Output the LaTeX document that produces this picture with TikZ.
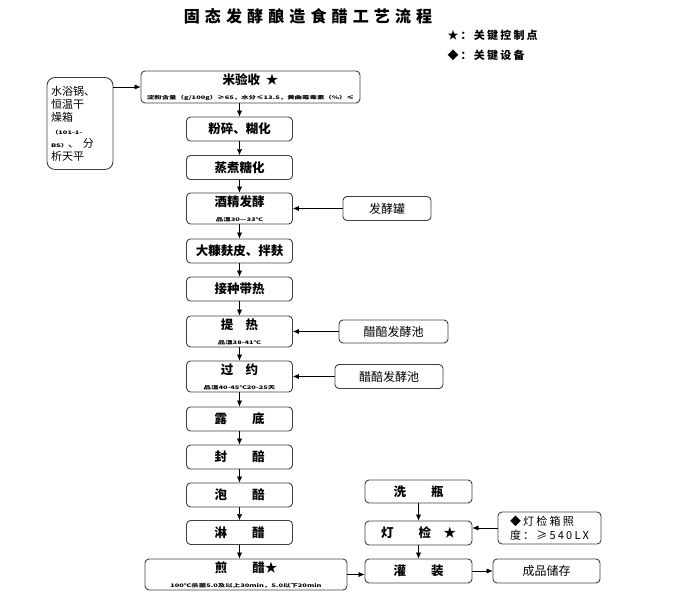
\documentclass[tikz,border=0pt]{standalone}
\usepackage{fontspec}
\setmainfont{Noto Sans CJK SC}
\usetikzlibrary{positioning,arrows.meta}
\newcommand{\smallnote}[1]{\scalebox{1.55}[1]{\bfseries\fontsize{4.8}{5.5}\selectfont #1}}

\begin{document}
\begin{tikzpicture}[
    x=1pt, y=-1pt,
    >={Latex[length=6pt,width=5pt]},
    node distance=40pt,
    on grid,
    proc/.style={draw=black!75, line width=0.9pt, rounded corners=4pt,
        minimum width=106pt, minimum height=24pt, inner sep=1pt,
        align=center, font=\bfseries\fontsize{12.5}{14}\selectfont},
    twoline/.style={proc, minimum height=31pt},
    equip/.style={proc, font=\fontsize{12}{15}\selectfont}]
    \useasboundingbox (0,0) rectangle (697,605);

    \node[font=\bfseries\fontsize{16}{18}\selectfont\addfontfeature{LetterSpace=32}] (title) at (308,16) {固态发酵酿造食醋工艺流程};
    \node[anchor=west, font=\bfseries\fontsize{11}{13}\selectfont\addfontfeature{LetterSpace=20}] (key_star) at (444,35) {★：关键控制点};
    \node[anchor=west, font=\bfseries\fontsize{11}{13}\selectfont\addfontfeature{LetterSpace=20}] (key_dia) at (444,55) {◆：关键设备};

    \node[twoline, minimum width=219pt, minimum height=32pt] (receive) at (250.5,87)
        {米验收\ \ ★\\[1pt]\smallnote{淀粉含量（g/100g）≥65，水分≤13.5，黄曲霉毒素（\%）≤}};
    \node[proc] (crush) at (239.5,129) {粉碎、糊化};
    \node[proc] (cook) [below=38.5pt of crush] {蒸煮糖化};
    \node[twoline] (alcohol) [below=41pt of cook] {酒精发酵\\[1pt]\smallnote{品温30—33℃}};
    \node[proc] (bran) [below=42.5pt of alcohol] {大糠麸皮、拌麸};
    \node[proc] (inoc) [below=38pt of bran] {接种带热};
    \node[twoline] (heat) [below=42.5pt of inoc] {提\quad 热\\[1pt]\smallnote{品温38-41℃}};
    \node[twoline] (turn) [below=45pt of heat] {过\quad 约\\[1pt]\smallnote{品温40-45℃20-25天}};
    \node[proc] (bottom) [below=42.5pt of turn] {露\qquad 底};
    \node[proc] (seal) [below=38pt of bottom] {封\qquad 醅};
    \node[proc] (soak) [below=38pt of seal] {泡\qquad 醅};
    \node[proc] (leach) [below=37.5pt of soak] {淋\qquad 醋};
    \node[twoline, minimum width=202pt] (boil) at (246,574.5)
        {煎\qquad 醋★\\[1pt]\smallnote{100℃杀菌5.0及以上30min，5.0以下20min}};

    \node[equip, minimum width=66pt, minimum height=92pt, rounded corners=8pt,
        text width=58pt, align=left, font=\fontsize{11}{13}\selectfont] (lab) at (80,123.5)
        {水浴锅、\\恒温干\\燥箱\\\smallnote{（101-1-}\\\smallnote{BS）}、 分\\析天平};
    \node[equip, minimum width=88pt] (tank) [right=147.5pt of alcohol] {发酵罐};
    \node[equip, minimum width=109pt, minimum height=23pt] (pool_a) [right=154pt of heat] {醋醅发酵池};
    \node[equip, minimum width=108pt] (pool_b) [right=149.5pt of turn] {醋醅发酵池};

    \node[proc, minimum width=107pt, minimum height=23pt] (wash) at (418.5,491.5) {洗\qquad 瓶};
    \node[proc, minimum width=107pt] (inspect) at (418.5,533) {灯\qquad 检\quad ★};
    \node[proc, minimum width=107pt] (fill) at (418.5,571) {灌\qquad 装};
    \node[equip, minimum width=107pt] (store) at (546.5,571) {成品储存};
    \node[equip, minimum width=103pt, minimum height=32pt, align=left,
        font=\fontsize{11}{14}\selectfont\addfontfeature{LetterSpace=20}] (lamp) at (549.5,528)
        {◆灯检箱照\\度：≥540LX};

    \path[->]
    (lab.east |- receive.west) edge (receive.west)
    (receive.south -| crush.north) edge (crush)
    (crush) edge (cook)
    (cook) edge (alcohol)
    (alcohol) edge (bran)
    (bran) edge (inoc)
    (inoc) edge (heat)
    (heat) edge (turn)
    (turn) edge (bottom)
    (bottom) edge (seal)
    (seal) edge (soak)
    (soak) edge (leach)
    (leach) edge (leach |- boil.north)
    (tank) edge (alcohol)
    (pool_a) edge (heat)
    (pool_b) edge (turn)
    (boil.east) edge (boil.east -| fill.west)
    (wash) edge (inspect)
    (inspect) edge (fill)
    (lamp.west) edge (lamp.west -| inspect.east)
    (fill) edge (store)
    ;
\end{tikzpicture}
\end{document}
